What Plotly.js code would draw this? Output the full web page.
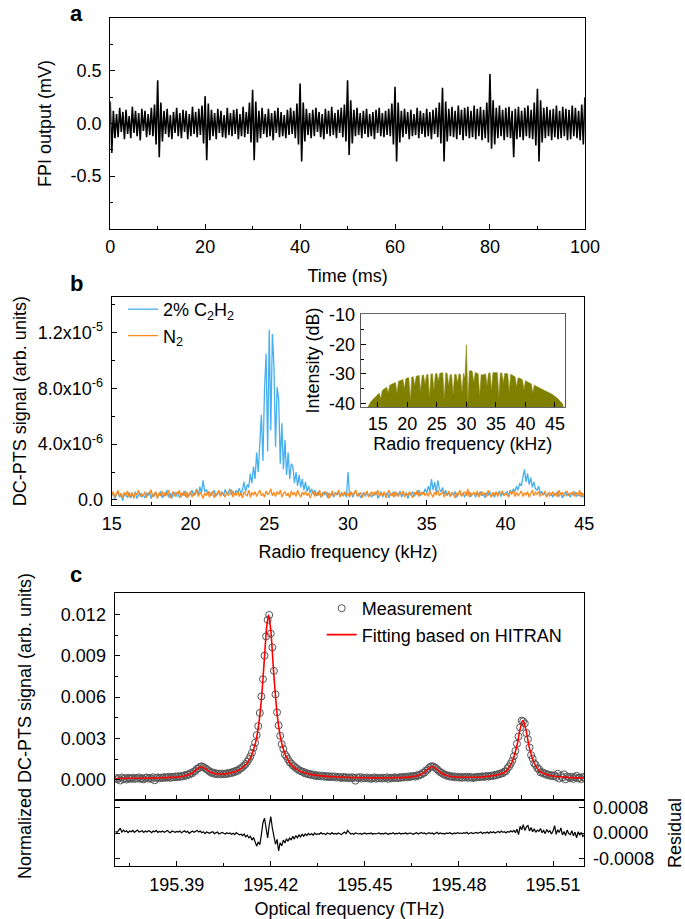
<!DOCTYPE html>
<html><head><meta charset="utf-8">
<script src="https://cdn.plot.ly/plotly-3.0.1.min.js"></script>
<style>html,body{margin:0;padding:0;background:#fff}#chart{width:685px;height:919px}</style>
</head><body><div id="chart"></div>
<script>
// ================= DATA =================
// Panel a: FPI output (mV), sampled every 1/3 ms starting at 0 ms
const fpiTimeStart = 0;
const fpiTimeStep = 1 / 3;
const fpiOutput = [
0.21,-0.28,0.12,-0.14,0.09,-0.13,0.15,-0.08,0.11,-0.15,0.13,-0.1,0.07,-0.14,0.16,-0.09,0.12,-0.12,0.1,-0.16,0.14,-0.07,0.12,-0.13,0.09,-0.11,0.15,-0.12,0.18,-0.2,
0.41,-0.32,0.2,-0.17,0.12,-0.1,0.14,-0.13,0.08,-0.15,0.11,-0.09,0.15,-0.12,0.1,-0.14,0.13,-0.08,0.12,-0.15,0.09,-0.12,0.16,-0.1,0.11,-0.13,0.14,-0.11,0.17,-0.19,
0.26,-0.35,0.19,-0.16,0.13,-0.12,0.1,-0.15,0.14,-0.09,0.12,-0.13,0.08,-0.14,0.15,-0.11,0.1,-0.12,0.13,-0.1,0.14,-0.15,0.09,-0.12,0.16,-0.13,0.11,-0.1,0.2,-0.18,
0.32,-0.35,0.21,-0.18,0.12,-0.14,0.15,-0.1,0.09,-0.13,0.14,-0.12,0.1,-0.16,0.12,-0.09,0.15,-0.13,0.11,-0.12,0.08,-0.14,0.13,-0.11,0.15,-0.1,0.12,-0.14,0.19,-0.2,
0.38,-0.36,0.2,-0.17,0.14,-0.11,0.1,-0.14,0.13,-0.12,0.15,-0.08,0.11,-0.13,0.09,-0.15,0.14,-0.1,0.12,-0.12,0.16,-0.11,0.1,-0.14,0.13,-0.09,0.15,-0.13,0.18,-0.17,
0.41,-0.3,0.22,-0.19,0.13,-0.12,0.15,-0.11,0.1,-0.14,0.12,-0.1,0.14,-0.13,0.09,-0.12,0.11,-0.15,0.13,-0.09,0.15,-0.12,0.1,-0.13,0.12,-0.11,0.14,-0.12,0.19,-0.2,
0.35,-0.36,0.2,-0.18,0.12,-0.13,0.14,-0.1,0.11,-0.15,0.13,-0.12,0.09,-0.11,0.15,-0.14,0.12,-0.1,0.1,-0.13,0.14,-0.12,0.11,-0.15,0.13,-0.1,0.15,-0.13,0.2,-0.19,
0.34,-0.36,0.21,-0.17,0.14,-0.12,0.16,-0.13,0.12,-0.15,0.17,-0.11,0.13,-0.16,0.15,-0.12,0.16,-0.14,0.12,-0.13,0.17,-0.15,0.14,-0.12,0.16,-0.16,0.13,-0.14,0.2,-0.18,
0.47,-0.24,0.22,-0.2,0.15,-0.14,0.17,-0.12,0.13,-0.16,0.15,-0.13,0.16,-0.14,0.12,-0.32,0.14,-0.15,0.16,-0.13,0.12,-0.16,0.15,-0.12,0.17,-0.14,0.13,-0.15,0.2,-0.21,
0.33,-0.36,0.22,-0.18,0.15,-0.14,0.16,-0.12,0.13,-0.16,0.14,-0.13,0.17,-0.15,0.12,-0.14,0.16,-0.12,0.14,-0.16,0.13,-0.15,0.17,-0.12,0.15,-0.14,0.12,-0.16,0.18,-0.2,
0.25];

// Panel b: DC-PTS signal in units of 1e-6, every 0.1 kHz starting at 15 kHz
const rfStart = 15;
const rfStep = 0.1;
const c2h2Signal = [
0.3,0.5,0.1,0.4,0.6,0.2,0.35,-0.05,0.45,0.3,
0.2,0.55,0.15,0.4,0.25,0.6,0.1,0.35,0.5,0.2,
0.4,0.15,0.5,0.3,0.6,0.1,0.45,0.25,0.55,0.2,
0.35,0.6,0.15,0.45,0.3,0.7,0.2,0.5,0.1,0.4,
0.55,0.25,0.6,0.15,0.45,0.35,0.65,0.2,0.5,0.3,
0.45,0.7,0.3,0.55,0.8,0.35,0.95,0.5,1.4,0.6,
0.75,0.4,0.6,0.3,0.55,0.7,0.25,0.5,0.65,0.35,
0.6,0.3,0.75,0.45,0.5,0.8,0.35,0.65,0.4,0.7,
0.5,0.85,0.45,0.7,1.3,0.6,1.1,0.9,1.9,1.2,
2.4,1.5,3.4,2.0,4.5,6.1,2.8,7.9,10.5,3.5,
12.2,5.0,11.9,9.6,3.8,8.1,7.2,2.6,5.5,2.2,
4.3,1.8,3.4,1.5,2.6,2.4,1.2,2.0,1.0,1.8,
0.9,1.5,0.7,1.3,0.6,1.0,0.5,0.8,0.4,0.7,
0.3,0.6,0.45,0.2,0.55,0.35,0.6,0.15,0.5,0.3,
0.45,0.2,0.55,0.35,0.6,0.25,0.5,0.3,0.45,0.2,
2.0,0.3,0.55,0.2,0.45,0.6,0.3,0.5,0.15,0.4,
0.55,0.25,0.6,0.3,0.45,0.2,0.5,0.35,0.6,0.1,
0.4,0.6,0.2,0.5,0.3,0.55,0.15,0.45,0.35,0.6,
0.25,0.5,0.4,0.65,0.2,0.45,0.3,0.55,0.1,0.5,
0.35,0.6,0.25,0.5,0.4,0.7,0.3,0.55,0.45,0.8,
0.5,1.0,0.6,1.5,0.7,1.3,0.5,1.4,0.8,0.6,
0.9,0.4,0.7,0.3,0.55,0.25,0.5,0.35,0.6,0.2,
0.45,0.6,0.3,0.5,0.2,0.55,0.35,0.6,0.25,0.4,
0.55,0.2,0.5,0.35,0.6,0.3,0.45,0.15,0.5,0.35,
0.6,0.3,0.45,0.2,0.55,0.4,0.65,0.25,0.5,0.35,
0.45,0.6,0.3,0.7,0.5,0.8,0.6,1.0,0.7,1.2,
1.0,1.5,2.2,1.3,1.9,1.1,1.6,0.9,1.3,0.8,
0.7,1.0,0.5,0.6,0.35,0.55,0.25,0.45,0.3,0.5,
0.2,0.45,0.35,0.6,0.25,0.5,0.15,0.4,0.55,0.3,
0.45,0.2,0.5,0.35,0.6,0.25,0.4,0.3,0.55,0.2,
0.35];
const n2Signal = [
0.35,0.6,0.2,0.45,0.7,0.25,0.5,0.15,0.55,0.3,
0.65,0.2,0.4,0.55,0.1,0.5,0.35,0.7,0.25,0.45,
0.3,0.6,0.15,0.5,0.4,0.75,0.2,0.45,0.6,0.1,
0.5,0.3,0.65,0.2,0.55,0.35,0.7,0.15,0.4,0.6,
0.25,0.55,0.4,0.7,0.2,0.5,0.3,0.65,0.15,0.45,
0.6,0.2,0.5,0.35,0.75,0.25,0.55,0.4,0.1,0.5,
0.3,0.65,0.2,0.45,0.6,0.15,0.5,0.35,0.7,0.25,
0.55,0.4,0.2,0.6,0.3,0.5,0.75,0.2,0.45,0.35,
0.65,0.25,0.5,0.15,0.6,0.4,0.3,0.7,0.2,0.55,
0.35,0.6,0.25,0.5,0.7,0.3,0.45,0.2,0.65,0.4,
0.5,0.8,0.3,0.55,0.25,0.6,0.4,0.7,0.2,0.45,
0.6,0.3,0.5,0.15,0.65,0.35,0.55,0.25,0.7,0.4,
0.2,0.55,0.35,0.6,0.3,0.5,0.15,0.45,0.65,0.25,
0.5,0.3,0.7,0.2,0.45,0.6,0.35,0.55,0.1,0.4,
0.65,0.25,0.5,0.4,0.7,0.2,0.55,0.3,0.6,0.35,
0.45,0.2,0.6,0.35,0.5,0.7,0.25,0.4,0.55,0.15,
0.5,0.35,0.65,0.2,0.45,0.6,0.3,0.55,0.4,0.7,
0.25,0.5,0.35,0.6,0.15,0.45,0.7,0.3,0.5,0.2,
0.6,0.4,0.25,0.55,0.35,0.65,0.2,0.5,0.3,0.6,
0.45,0.15,0.55,0.35,0.7,0.25,0.5,0.4,0.6,0.3,
0.5,0.25,0.65,0.4,0.2,0.55,0.35,0.7,0.3,0.45,
0.6,0.2,0.5,0.35,0.65,0.25,0.55,0.4,0.15,0.5,
0.35,0.7,0.25,0.45,0.6,0.3,0.8,0.2,0.5,0.4,
0.55,0.3,0.65,0.2,0.45,0.6,0.35,0.5,0.25,0.7,
0.4,0.2,0.55,0.35,0.6,0.25,0.5,0.45,0.65,0.3,
0.5,0.35,0.2,0.6,0.4,0.7,0.25,0.55,0.3,0.45,
0.65,0.25,0.5,0.35,0.6,0.2,0.45,0.7,0.3,0.55,
0.4,0.6,0.25,0.5,0.35,0.65,0.2,0.45,0.55,0.3,
0.6,0.35,0.5,0.2,0.7,0.4,0.55,0.25,0.45,0.65,
0.3,0.5,0.4,0.6,0.25,0.55,0.35,0.7,0.2,0.45,
0.4];

// Panel b inset: intensity (dB), every 0.25 kHz starting at 13.25 kHz
const insetStart = 13.25;
const insetStep = 0.25;
const insetIntensity = [
-41.5,-40.4,-39.6,
-39.0,-38.5,-38.0,-37.4,
-37.0,-36.5,-38.5,-35.6,
-35.2,-34.8,-34.5,-36.5,
-33.9,-33.6,-33.4,-33.1,
-32.9,-36.5,-32.5,-32.3,
-32.1,-31.9,-35.0,-31.6,
-31.4,-31.3,-39.0,-31.1,
-31.0,-34.0,-30.8,-30.7,
-30.6,-36.0,-30.5,-30.4,
-33.5,-30.3,-30.2,-38.0,
-30.1,-30.0,-35.5,-30.0,
-29.9,-32.5,-29.8,-29.7,
-29.6,-38.5,-29.7,-29.9,
-34.0,-30.2,-30.4,-37.0,
-30.3,-30.1,-33.0,-30.0,
-30.2,-36.5,-29.8,-31.5,
-20.2,-39.5,-29.0,-28.9,
-29.2,-33.0,-29.5,-29.8,
-30.0,-37.5,-30.2,-30.4,
-30.3,-30.0,-34.0,-29.8,
-29.6,-35.5,-29.6,-29.5,
-29.6,-29.6,-38.0,-29.7,
-29.7,-33.0,-29.8,-29.9,
-30.0,-36.0,-30.2,-30.4,
-30.7,-31.0,-34.5,-31.3,
-31.5,-31.8,-32.0,-35.5,
-32.3,-32.6,-32.9,-33.1,
-33.4,-36.5,-33.8,-34.1,
-34.3,-34.6,-34.8,-35.1,
-35.4,-35.6,-35.9,-36.1,
-36.4,-36.6,-36.9,-37.2,
-37.6,-38.0,-38.4,-38.9,
-39.4,-40.1,-41.5];

// Panel c: measurement (units of 1e-3), every 0.0005 THz starting at 195.3705 THz
const optStart = 195.3705;
const optStep = 0.0005;
const measurement = [
0.15,0.05,0.13,-0.04,0.18,0.06,0.12,0.03,0.16,0.10,
0.09,0.17,0.07,0.14,0.11,0.19,0.08,0.13,0.04,0.15,
0.18,0.10,0.16,0.07,0.20,-0.02,0.15,0.19,0.11,0.17,
0.14,0.21,0.16,0.18,0.24,0.15,0.22,0.19,0.26,0.21,
0.27,0.22,0.29,0.26,0.35,0.31,0.41,0.38,0.50,0.49,
0.62,0.66,0.82,0.85,0.96,0.99,0.93,0.86,0.79,0.70,
0.62,0.52,0.54,0.44,0.49,0.41,0.46,0.40,0.47,0.42,
0.43,0.49,0.45,0.53,0.50,0.60,0.57,0.68,0.66,0.79,
0.85,0.93,1.05,1.16,1.32,1.50,1.71,1.97,2.33,2.70,
3.25,3.90,4.85,6.05,7.30,9.00,10.40,11.60,11.95,10.60,
9.60,7.90,6.20,4.90,3.95,3.20,2.60,2.25,1.85,1.70,
1.50,1.30,1.20,1.05,0.98,0.86,0.80,0.70,0.66,0.60,
0.58,0.47,0.50,0.41,0.44,0.35,0.39,0.30,0.35,0.27,
0.33,0.26,0.31,0.24,0.29,0.22,0.27,0.20,0.26,0.21,
0.25,0.17,0.23,0.19,0.14,0.22,0.16,0.20,0.13,0.19,
0.12,0.20,0.15,-0.05,0.18,0.13,0.21,0.10,0.17,0.12,
0.18,0.11,0.16,0.08,0.14,0.19,0.09,0.15,0.12,0.17,
0.10,0.16,0.13,0.19,0.08,0.17,0.12,0.15,0.20,0.14,
0.14,0.20,0.16,0.22,0.18,0.24,0.19,0.26,0.22,0.28,
0.29,0.24,0.33,0.30,0.40,0.39,0.52,0.53,0.69,0.73,
0.88,0.97,1.00,0.95,0.88,0.78,0.66,0.58,0.51,0.43,
0.39,0.31,0.33,0.25,0.28,0.21,0.26,0.19,0.24,0.17,
0.23,0.16,0.21,0.18,0.24,0.15,0.22,0.19,0.14,0.21,
0.18,0.24,0.20,0.23,0.27,0.22,0.26,0.29,0.24,0.30,
0.32,0.29,0.37,0.35,0.43,0.41,0.50,0.49,0.61,0.63,
0.85,0.98,1.18,1.40,1.72,2.10,2.62,3.15,3.80,4.30,
4.25,4.10,3.40,2.95,2.35,1.80,1.55,1.20,1.08,0.85,
0.79,0.55,0.57,0.45,0.47,0.36,0.40,0.30,0.35,0.27,
0.34,0.22,0.45,0.10,0.30,0.18,0.41,0.05,0.26,0.20,
0.12,0.24,0.08,0.20,0.30,0.11,0.18,0.06,0.22,0.15];

// Panel c: HITRAN-based fit (units of 1e-3)
const fitFreq = [195.3705,195.375,195.38,195.385,195.388,195.391,195.393,195.395,195.3965,195.3978,
195.399,195.4005,195.402,195.404,195.406,195.408,195.41,195.412,195.4135,195.415,
195.416,195.417,195.418,195.4187,195.4193,195.42,195.421,195.422,195.423,195.4245,
195.426,195.428,195.43,195.433,195.436,195.44,195.445,195.45,195.455,195.46,
195.464,195.467,195.469,195.4705,195.4715,195.4725,195.474,195.476,195.479,195.483,
195.487,195.49,195.493,195.495,195.497,195.4985,195.4995,195.5004,195.5013,195.5025,
195.504,195.506,195.509,195.512,195.516,195.52];
const fitSignal = [0.11,0.12,0.13,0.16,0.19,0.24,0.33,0.51,0.78,0.96,
0.83,0.59,0.47,0.43,0.46,0.56,0.74,1.10,1.60,2.57,
3.76,5.78,8.92,11.12,11.95,10.86,7.52,4.83,3.19,1.90,
1.25,0.81,0.57,0.39,0.30,0.23,0.18,0.16,0.15,0.17,
0.21,0.32,0.55,0.86,0.98,0.86,0.56,0.33,0.22,0.20,
0.22,0.28,0.42,0.62,1.34,2.50,3.70,4.30,3.70,2.29,
1.23,0.58,0.33,0.23,0.17,0.14];

// Panel c residual (units of 1e-4), same frequency grid as measurement
const residual = [
0.5,0.2,0.8,1.5,0.3,0.9,0.4,0.7,0.1,0.6,
0.4,0.8,0.2,0.6,0.9,0.3,0.5,0.7,0.2,0.6,
0.3,0.7,0.5,0.1,0.6,0.4,0.8,0.2,0.5,0.3,
0.6,0.2,0.5,0.8,0.3,0.1,0.6,0.4,0.2,0.5,
0.3,0.6,0.1,0.4,0.7,0.2,0.5,-0.1,0.3,0.6,
0.2,0.5,0.8,0.3,0.6,0.1,0.4,-0.2,0.3,0.1,
-0.1,0.2,0.4,-0.2,0.1,0.3,-0.3,0.0,0.2,-0.1,
-0.3,0.1,-0.2,0.0,-0.4,-0.1,-0.5,0.1,-0.3,-0.6,
-0.4,-0.8,-0.3,-1.2,-0.7,-1.5,-1.0,-2.2,-1.4,-2.6,
-4.1,-2.8,-3.6,-0.5,3.2,4.6,1.0,-1.5,2.5,5.1,
1.5,-1.0,-3.5,-2.0,-5.6,-3.0,-4.0,-2.2,-3.1,-1.8,
-2.6,-1.5,-2.2,-1.0,-1.9,-0.8,-1.5,-0.6,-1.2,-0.4,
-1.0,-0.3,-0.8,-0.1,-0.6,-0.2,-0.7,0.0,-0.5,-0.2,
-0.4,0.1,-0.3,-0.1,-0.5,0.0,-0.2,-0.4,0.1,-0.3,
-0.1,-0.4,0.0,-0.2,-0.5,-0.1,0.3,-0.2,0.8,0.2,
-0.3,-0.1,-0.4,0.0,-0.2,-0.3,-0.1,-0.4,-0.2,0.0,
-0.3,-0.1,-0.2,0.0,-0.4,-0.1,-0.3,-0.2,0.0,-0.3,
-0.1,-0.3,0.0,-0.2,-0.4,-0.1,-0.2,0.1,-0.3,-0.1,
-0.2,0.0,-0.3,-0.1,-0.2,0.1,-0.3,-0.1,0.0,-0.2,
-0.4,-0.1,0.1,-0.3,-0.1,0.2,-0.2,0.0,-0.3,-0.1,
0.1,-0.2,0.0,-0.4,-0.1,0.2,-0.3,0.0,-0.2,-0.1,
-0.3,0.0,-0.2,0.1,-0.1,-0.3,0.0,-0.2,0.1,-0.1,
0.0,-0.2,0.1,-0.1,0.2,-0.3,0.0,0.1,-0.2,0.0,
0.2,-0.1,0.1,0.3,-0.2,0.2,0.0,0.3,-0.1,0.4,
0.1,0.4,0.0,0.3,0.5,0.1,0.6,0.2,0.4,0.0,
0.5,0.2,0.7,0.3,0.8,0.1,1.2,-0.5,2.1,1.0,
2.6,0.8,1.9,2.3,0.6,1.7,0.4,1.3,0.2,0.9,
0.5,1.4,0.1,0.8,-0.2,1.1,0.3,0.7,-0.3,0.6,
2.3,-0.4,1.0,0.2,1.6,-0.6,0.5,-0.8,0.9,-0.2,
-0.5,0.7,-0.9,0.3,-1.5,0.4,-0.7,0.2,-1.1,-0.6];

// Tick labels
const aYTickVals = [-0.5, 0, 0.5];
const aYTickText = ['-0.5', '0.0', '0.5'];
const bYTickVals = [0, 4, 8, 12];
const bYTickText = ['0.0', '4.0x10<sup>-6</sup>', '8.0x10<sup>-6</sup>', '1.2x10<sup>-5</sup>'];
const insetYTickVals = [-40, -30, -20, -10];
const insetYTickText = ['-40', '-30', '-20', '-10'];
const cYTickVals = [0, 3, 6, 9, 12];
const cYTickText = ['0.000', '0.003', '0.006', '0.009', '0.012'];
const cXTickVals = [195.39, 195.42, 195.45, 195.48, 195.51];
const cXTickText = ['195.39', '195.42', '195.45', '195.48', '195.51'];
const resTickVals = [-8, 0, 8];
const resTickText = ['-0.0008', '0.0000', '0.0008'];

// ================= STYLE / LAYOUT =================
const W = 685, H = 919;
const FONT = 'Liberation Sans, Arial, sans-serif';
const px = (a, b) => [a / W, b / W];
const py = (top, bottom) => [1 - bottom / H, 1 - top / H];

function ax(extra) {
  const base = {
    showline: true, linecolor: '#000', linewidth: 1.2, mirror: true,
    ticks: 'inside', ticklen: 5, tickwidth: 1.2, tickcolor: '#000',
    showgrid: false, zeroline: false, ticklabelstandoff: 4,
    tickfont: {family: FONT, size: 18, color: '#000'},
    title: {font: {family: FONT, size: 18, color: '#000'}}
  };
  const out = Object.assign({}, base, extra);
  if (extra.title) out.title = Object.assign({}, base.title, extra.title);
  return out;
}
const minorStyle = {ticks: 'inside', ticklen: 3, tickwidth: 1, tickcolor: '#000'};

const traces = [
  {type: 'scatter', mode: 'lines', x0: fpiTimeStart, dx: fpiTimeStep, y: fpiOutput,
   xaxis: 'x', yaxis: 'y', line: {color: '#000', width: 1.6}, showlegend: false},
  {type: 'scatter', mode: 'lines', x0: rfStart, dx: rfStep, y: c2h2Signal, name: '2% C<sub>2</sub>H<sub>2</sub>',
   xaxis: 'x2', yaxis: 'y2', line: {color: '#45aff0', width: 1.3}, legend: 'legend'},
  {type: 'scatter', mode: 'lines', x0: rfStart, dx: rfStep, y: n2Signal, name: 'N<sub>2</sub>',
   xaxis: 'x2', yaxis: 'y2', line: {color: '#ff8a1c', width: 1.3}, legend: 'legend'},
  {type: 'scatter', mode: 'lines', x0: insetStart, dx: insetStep, y: insetIntensity,
   xaxis: 'x3', yaxis: 'y3', fill: 'toself', fillcolor: '#808000', line: {color: '#8a8a10', width: 0.6}, showlegend: false},
  {type: 'scatter', mode: 'markers', x0: optStart, dx: optStep, y: measurement, name: 'Measurement',
   xaxis: 'x4', yaxis: 'y4', marker: {symbol: 'circle-open', size: 7, color: '#555', line: {width: 1, color: '#555'}}, legend: 'legend2'},
  {type: 'scatter', mode: 'lines', x: fitFreq, y: fitSignal, name: 'Fitting based on HITRAN',
   xaxis: 'x4', yaxis: 'y4', line: {color: '#ff0000', width: 1.6, shape: 'spline', smoothing: 0.6}, legend: 'legend2'},
  {type: 'scatter', mode: 'lines', x0: optStart, dx: optStep, y: residual,
   xaxis: 'x5', yaxis: 'y5', line: {color: '#000', width: 1.2}, showlegend: false}
];

const cXRange = [195.3702, 195.52];

const layout = {
  width: W, height: H, margin: {l: 0, r: 0, t: 0, b: 0},
  paper_bgcolor: '#fff', plot_bgcolor: 'rgba(0,0,0,0)',
  font: {family: FONT, size: 18, color: '#000'},
  // panel a
  xaxis: ax({domain: px(110.2, 584.9), anchor: 'y', range: [0, 100], tickmode: 'linear', tick0: 0, dtick: 20,
    ticklabelstandoff: 2,
    minor: Object.assign({tickmode: 'linear', tick0: 0, dtick: 10}, minorStyle),
    title: {text: 'Time (ms)', standoff: 12}}),
  yaxis: ax({domain: py(18.3, 228.7), anchor: 'x', range: [-1, 1], tickmode: 'array', tickvals: aYTickVals, ticktext: aYTickText,
    minor: Object.assign({tickmode: 'array', tickvals: [-0.75, -0.25, 0.25, 0.75]}, minorStyle),
    title: {text: 'FPI output (mV)', standoff: 14}}),
  // panel b
  xaxis2: ax({domain: px(111.7, 584.3), anchor: 'y2', range: [15, 45], tickmode: 'linear', tick0: 15, dtick: 5,
    ticklabelstandoff: 2,
    minor: Object.assign({tickmode: 'linear', tick0: 15, dtick: 2.5}, minorStyle),
    title: {text: 'Radio frequency (kHz)', standoff: 12}}),
  yaxis2: ax({domain: py(297.3, 505), anchor: 'x2', range: [-0.36, 14.53], tickmode: 'array', tickvals: bYTickVals, ticktext: bYTickText,
    minor: Object.assign({tickmode: 'array', tickvals: [2, 6, 10, 14]}, minorStyle),
    title: {text: 'DC-PTS signal (arb. units)', standoff: 6}}),
  // inset
  xaxis3: ax({domain: px(360.7, 565), anchor: 'y3', range: [12.1, 46.7], tickmode: 'linear', tick0: 15, dtick: 5,
    ticklabelstandoff: 0,
    linecolor: '#666', linewidth: 1, title: {text: 'Radio frequency (kHz)', standoff: 0}}),
  yaxis3: ax({domain: py(314, 407), anchor: 'x3', range: [-41.2, -9.8], tickmode: 'array', tickvals: insetYTickVals, ticktext: insetYTickText,
    linecolor: '#555', linewidth: 1, ticklabelstandoff: 1,
    minor: Object.assign({tickmode: 'array', tickvals: [-35, -25, -15]}, minorStyle),
    title: {text: 'Intensity (dB)', standoff: 4}}),
  // panel c main
  xaxis4: ax({domain: px(114.6, 584.4), anchor: 'y4', range: cXRange, tickmode: 'linear', tick0: 195.38, dtick: 0.01,
    showticklabels: false}),
  yaxis4: ax({domain: py(593.3, 800), anchor: 'x4', range: [-1.45, 13.52], tickmode: 'array', tickvals: cYTickVals, ticktext: cYTickText,
    minor: Object.assign({tickmode: 'array', tickvals: [1.5, 4.5, 7.5, 10.5]}, minorStyle)}),
  // panel c residual
  xaxis5: ax({domain: px(114.6, 584.4), anchor: 'y5', range: cXRange, tickmode: 'array', tickvals: cXTickVals, ticktext: cXTickText,
    ticklabelstandoff: 2,
    minor: Object.assign({tickmode: 'array', tickvals: [195.375, 195.405, 195.435, 195.465, 195.495]}, minorStyle),
    title: {text: 'Optical frequency (THz)', standoff: 12}}),
  yaxis5: ax({domain: py(800, 866), anchor: 'x5', side: 'right', mirror: 'ticks', range: [-10.27, 10.27],
    tickmode: 'array', tickvals: resTickVals, ticktext: resTickText,
    title: {text: 'Residual', standoff: 16}}),
  legend: {x: 123 / W, xanchor: 'left', y: 1 - 291 / H, yanchor: 'top', bgcolor: 'rgba(0,0,0,0)',
    font: {family: FONT, size: 18, color: '#000'}, itemwidth: 30, tracegroupgap: 0},
  legend2: {x: 321.7 / W, xanchor: 'left', y: 1 - 590 / H, yanchor: 'top', bgcolor: 'rgba(0,0,0,0)',
    font: {family: FONT, size: 18, color: '#000'}, itemwidth: 30, tracegroupgap: 0},
  annotations: [
    {text: '<b>a</b>', x: 76 / W, y: 1 - 13 / H, xref: 'paper', yref: 'paper', xanchor: 'center', yanchor: 'middle',
     showarrow: false, font: {family: FONT, size: 22}},
    {text: '<b>b</b>', x: 76 / W, y: 1 - 283 / H, xref: 'paper', yref: 'paper', xanchor: 'center', yanchor: 'middle',
     showarrow: false, font: {family: FONT, size: 22}},
    {text: '<b>c</b>', x: 76 / W, y: 1 - 574 / H, xref: 'paper', yref: 'paper', xanchor: 'center', yanchor: 'middle',
     showarrow: false, font: {family: FONT, size: 22}},
    {text: 'Normalized DC-PTS signal (arb. units)', x: 25 / W, y: 1 - 726 / H, xref: 'paper', yref: 'paper',
     xanchor: 'center', yanchor: 'middle', showarrow: false, textangle: -90, font: {family: FONT, size: 18}}
  ]
};

Plotly.newPlot('chart', traces, layout, {displayModeBar: false, responsive: false});
</script>
</body></html>
